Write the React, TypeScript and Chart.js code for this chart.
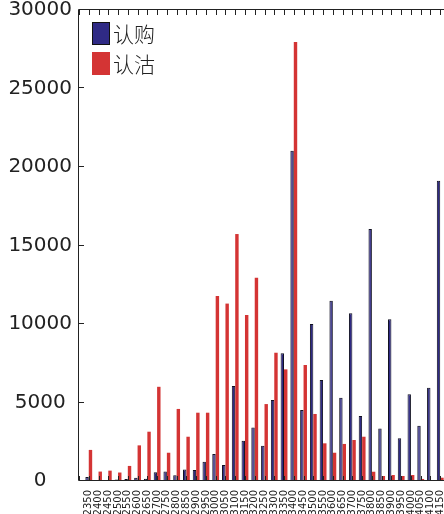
import React, { useEffect, useRef } from "react";
import { Chart, registerables } from "chart.js";

Chart.register(...registerables);

const strikes = [
  2350, 2400, 2450, 2500, 2550, 2600, 2650, 2700, 2750, 2800, 2850, 2900, 2950,
  3000, 3050, 3100, 3150, 3200, 3250, 3300, 3350, 3400, 3450, 3500, 3550, 3600,
  3650, 3700, 3750, 3800, 3850, 3900, 3950, 4000, 4050, 4100, 4150,
];

const callVolume = [
  250, 60, 70, 100, 120, 200, 150, 560, 600, 360, 740, 700, 1230, 1720, 1020,
  6050, 2570, 3400, 2250, 5160, 8130, 21040, 4520, 10000, 6430, 11480, 5310,
  10680, 4140, 16050, 3350, 10300, 2720, 5520, 3520, 5940, 19130,
];

const putVolume = [
  1980, 600, 660, 540, 960, 2270, 3140, 6000, 1800, 4590, 2820, 4350, 4350,
  11780, 11300, 15730, 10570, 12950, 4900, 8170, 7110, 27960, 7390, 4270, 2400,
  1800, 2360, 2610, 2820, 590, 320, 380, 320, 380, 130, 60, 210,
];

const yTicks = [0, 5000, 10000, 15000, 20000, 25000, 30000];
const seriesNames = ["认购", "认沽"];
const seriesColors = ["#2f2a85", "#d43434"];

const X_MIN = 2300;
const X_MAX = 4200;
const W = 450;
const H = 514;
const PLOT_TOP = 10;
const PLOT_BOTTOM = 481;
const PLOT_LEFT = 79;

const framePlugin = {
  id: "frame",
  afterDatasetsDraw(chart: any) {
    const { ctx, chartArea } = chart;
    const { left, right, top, bottom } = chartArea;
    const xs = chart.scales.x;
    const ys = chart.scales.y;
    ctx.save();
    ctx.strokeStyle = "#222";
    ctx.lineWidth = 1;
    ctx.beginPath();
    ctx.rect(left - 0.5, top - 0.5, right - left, bottom - top);
    ctx.stroke();
    ctx.beginPath();
    for (const v of yTicks) {
      const y = Math.round(ys.getPixelForValue(v)) - 0.5;
      ctx.moveTo(left, y);
      ctx.lineTo(left + 5, y);
      ctx.moveTo(right, y);
      ctx.lineTo(right - 5, y);
    }
    for (let v = X_MIN; v <= X_MAX; v += 50) {
      const x = Math.round(xs.getPixelForValue(v)) + 0.5;
      ctx.moveTo(x, top);
      ctx.lineTo(x, top + 5);
      ctx.moveTo(x, bottom);
      ctx.lineTo(x, bottom - 5);
    }
    ctx.stroke();
    ctx.restore();
  },
};

export default function App() {
  const ref = useRef<HTMLCanvasElement | null>(null);

  useEffect(() => {
    if (!ref.current) return;
    const chart = new Chart(ref.current, {
      type: "bar",
      data: {
        datasets: [
          {
            label: seriesNames[0],
            data: strikes.map((s, i) => ({ x: s, y: callVolume[i] })),
            backgroundColor: seriesColors[0],
            borderColor: "#111122",
            borderWidth: 1,
          },
          {
            label: seriesNames[1],
            data: strikes.map((s, i) => ({ x: s, y: putVolume[i] })),
            backgroundColor: seriesColors[1],
            borderWidth: 0,
          },
        ],
      },
      options: {
        responsive: false,
        animation: false,
        layout: { padding: { top: PLOT_TOP, left: 0, right: 0, bottom: 0 } },
        categoryPercentage: 0.7,
        barPercentage: 1.0,
        plugins: {
          legend: { display: false },
          tooltip: { enabled: false },
        },
        scales: {
          x: {
            type: "linear",
            min: X_MIN,
            max: X_MAX,
            offset: false,
            grid: { display: false, drawTicks: false },
            border: { display: false },
            afterBuildTicks: (scale: any) => {
              scale.ticks = strikes.map((s) => ({ value: s }));
            },
            afterFit: (scale: any) => {
              scale.height = H - PLOT_BOTTOM;
              scale.paddingLeft = 0;
              scale.paddingRight = 0;
            },
            ticks: {
              autoSkip: false,
              minRotation: 90,
              maxRotation: 90,
              padding: 9,
              color: "#222",
              font: { family: "DejaVu Sans", size: 10 },
              callback: (v: any) => String(v),
            },
          },
          y: {
            min: 0,
            max: 30000,
            grid: { display: false, drawTicks: false },
            border: { display: false },
            afterBuildTicks: (scale: any) => {
              scale.ticks = yTicks.map((v) => ({ value: v }));
            },
            afterFit: (scale: any) => {
              scale.width = PLOT_LEFT;
              scale.paddingTop = 0;
              scale.paddingBottom = 0;
            },
            ticks: {
              padding: 7,
              crossAlign: "center",
              color: "#222",
              font: { family: "DejaVu Sans", size: 20 },
              callback: (v: any) => String(v),
            },
          },
        },
      } as any,
      plugins: [framePlugin],
    });
    return () => chart.destroy();
  }, []);

  return (
    <div style={{ position: "relative", width: 444, height: 514, overflow: "hidden" }}>
      <style>{`body{margin:0;overflow:hidden}`}</style>
      <canvas ref={ref} width={W} height={H} style={{ display: "block" }} />
      {seriesNames.map((name, i) => (
        <div
          key={name}
          style={{
            position: "absolute",
            left: 92,
            top: 22 + i * 30,
            height: 23,
            display: "flex",
            alignItems: "center",
            fontFamily: "'Noto Sans CJK SC', sans-serif",
            fontSize: 21,
            fontWeight: 300,
            color: "#222",
            lineHeight: "23px",
          }}
        >
          <span
            style={{
              display: "inline-block",
              width: 18,
              height: 23,
              boxSizing: "border-box",
              background: seriesColors[i],
              border: i === 0 ? "1px solid #111" : "none",
              marginRight: 3,
            }}
          />
          <span>{name}</span>
        </div>
      ))}
    </div>
  );
}
